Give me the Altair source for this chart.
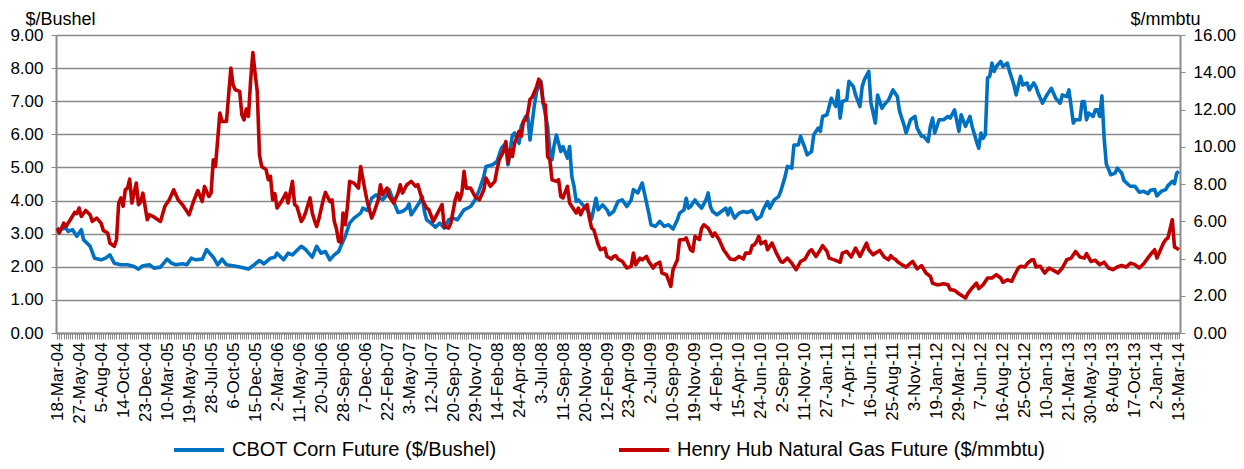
import json
import altair as alt
import pandas as pd

# x-axis category labels (every 10th weekly observation)
date_labels = ["18-Mar-04", "27-May-04", "5-Aug-04", "14-Oct-04", "23-Dec-04", "10-Mar-05", "19-May-05",
               "28-Jul-05", "6-Oct-05", "15-Dec-05", "2-Mar-06", "11-May-06", "20-Jul-06", "28-Sep-06",
               "7-Dec-06", "22-Feb-07", "3-May-07", "12-Jul-07", "20-Sep-07", "29-Nov-07", "14-Feb-08",
               "24-Apr-08", "3-Jul-08", "11-Sep-08", "20-Nov-08", "12-Feb-09", "23-Apr-09", "2-Jul-09",
               "10-Sep-09", "19-Nov-09", "4-Feb-10", "15-Apr-10", "24-Jun-10", "2-Sep-10", "11-Nov-10",
               "27-Jan-11", "7-Apr-11", "16-Jun-11", "25-Aug-11", "3-Nov-11", "19-Jan-12", "29-Mar-12",
               "7-Jun-12", "16-Aug-12", "25-Oct-12", "10-Jan-13", "21-Mar-13", "30-May-13", "8-Aug-13",
               "17-Oct-13", "2-Jan-14", "13-Mar-14"]
n_weeks = 511

corn_name = "CBOT Corn Future ($/Bushel)"
gas_name = "Henry Hub Natural Gas Future ($/mmbtu)"

# CBOT corn ($/bushel): week index and value
corn_week = [0, 1, 4, 5, 7, 9, 11, 12, 15, 17, 20, 22, 24, 26, 29, 32, 35, 37, 39, 42, 44, 47, 50, 52, 54, 57, 59,
             61, 63, 66, 68, 70, 71, 73, 75, 77, 80, 83, 87, 89, 92, 94, 97, 99, 100, 103, 105, 107, 111, 113, 116,
             118, 120, 122, 124, 126, 128, 129, 131, 133, 135, 138, 139, 141, 143, 145, 148, 150, 151, 153, 155,
             157, 159, 160, 161, 163, 165, 166, 167, 168, 170, 172, 174, 176, 178, 180, 182, 185, 188, 190, 192,
             194, 195, 198, 200, 202, 204, 205, 207, 208, 210, 211, 213, 214, 215, 217, 218, 220, 221, 223, 224,
             225, 226, 227, 229, 230, 232, 233, 234, 235, 236, 237, 239, 241, 243, 245, 246, 248, 250, 251, 253,
             255, 257, 259, 261, 262, 264, 266, 267, 269, 270, 272, 274, 276, 278, 280, 282, 283, 285, 286, 287,
             288, 290, 291, 293, 295, 296, 297, 298, 300, 302, 304, 305, 306, 308, 310, 312, 314, 316, 318, 320,
             321, 323, 324, 326, 328, 329, 331, 332, 334, 335, 337, 338, 340, 341, 343, 344, 346, 347, 348, 350,
             351, 352, 354, 355, 356, 357, 359, 360, 362, 363, 365, 366, 367, 369, 370, 372, 373, 375, 376, 378,
             380, 382, 383, 384, 385, 386, 388, 390, 391, 393, 394, 396, 397, 398, 399, 401, 403, 405, 406, 408,
             410, 411, 413, 415, 416, 418, 419, 420, 421, 422, 423, 424, 425, 426, 427, 429, 430, 432, 433, 435,
             436, 438, 439, 441, 442, 444, 445, 446, 448, 450, 452, 454, 456, 457, 459, 460, 462, 463, 465, 466,
             467, 468, 469, 471, 472, 473, 474, 475, 476, 477, 478, 479, 481, 482, 484, 485, 487, 488, 490, 492,
             494, 496, 497, 499, 500, 502, 504, 505, 506, 507, 508, 509, 510]
corn_value = [3.17, 3.12, 3.17, 3.07, 3.12, 2.92, 3.12, 2.82, 2.62, 2.26, 2.21, 2.26, 2.36, 2.11, 2.06, 2.06, 2.01,
              1.93, 2.03, 2.06, 1.96, 1.99, 2.23, 2.11, 2.06, 2.09, 2.06, 2.26, 2.21, 2.23, 2.52, 2.36, 2.29, 2.06,
              2.23, 2.06, 2.03, 1.99, 1.93, 2.03, 2.19, 2.09, 2.26, 2.29, 2.41, 2.21, 2.41, 2.36, 2.62, 2.52, 2.29,
              2.62, 2.41, 2.46, 2.21, 2.36, 2.46, 2.62, 2.92, 3.32, 3.47, 3.62, 3.77, 3.70, 4.07, 4.17, 4.02, 4.17,
              4.33, 3.97, 3.64, 3.67, 3.77, 3.90, 3.57, 3.77, 3.97, 4.12, 3.67, 3.42, 3.32, 3.20, 3.32, 3.17, 3.42,
              3.47, 3.42, 3.72, 3.82, 4.02, 4.33, 4.73, 5.03, 5.08, 5.18, 5.58, 5.73, 5.08, 5.98, 6.04, 5.73, 6.24,
              6.54, 6.54, 5.83, 6.89, 7.29, 7.60, 6.94, 6.24, 5.53, 5.23, 5.68, 5.98, 5.48, 5.63, 5.28, 5.63, 4.73,
              4.43, 3.97, 4.02, 3.87, 3.72, 3.44, 4.07, 3.72, 3.87, 3.72, 3.57, 3.67, 3.97, 4.02, 3.82, 4.02, 4.33,
              4.23, 4.53, 4.23, 3.62, 3.27, 3.22, 3.37, 3.22, 3.27, 3.14, 3.42, 3.62, 3.72, 4.07, 3.77, 3.82, 4.02,
              3.92, 3.77, 4.02, 4.23, 3.82, 3.67, 3.57, 3.67, 3.77, 3.57, 3.77, 3.47, 3.62, 3.67, 3.64, 3.70, 3.44,
              3.52, 3.72, 3.97, 3.77, 4.02, 4.12, 4.28, 4.73, 5.03, 4.98, 5.68, 5.68, 5.94, 5.58, 5.38, 5.48, 5.99,
              6.19, 6.09, 6.54, 6.59, 6.84, 7.09, 6.84, 7.32, 6.49, 6.99, 7.04, 7.60, 7.44, 7.19, 6.84, 7.44, 7.65,
              7.90, 6.94, 6.34, 7.19, 6.79, 6.89, 7.04, 7.34, 7.14, 6.70, 6.49, 6.29, 6.04, 6.44, 6.54, 6.19, 5.94,
              5.94, 5.78, 6.24, 6.49, 6.04, 6.44, 6.44, 6.54, 6.49, 6.74, 6.09, 6.59, 6.24, 6.54, 6.24, 5.78, 5.58,
              6.04, 5.88, 5.99, 7.70, 7.75, 8.15, 7.90, 8.05, 8.20, 8.05, 8.15, 7.90, 7.49, 7.19, 7.75, 7.49, 7.55,
              7.34, 7.55, 7.44, 7.24, 6.94, 7.19, 7.39, 7.09, 6.94, 7.19, 7.14, 7.34, 6.34, 6.44, 6.44, 6.99, 6.99,
              6.44, 6.64, 6.54, 6.74, 6.74, 6.54, 7.16, 5.90, 5.10, 4.95, 4.78, 4.83, 4.98, 4.83, 4.61, 4.48, 4.43,
              4.43, 4.25, 4.28, 4.21, 4.31, 4.33, 4.14, 4.28, 4.33, 4.45, 4.51, 4.58, 4.51, 4.83, 4.88]

# Henry Hub natural gas ($/mmbtu): week index and value
gas_week = [0, 1, 3, 4, 6, 8, 9, 10, 11, 13, 15, 16, 18, 20, 21, 23, 24, 26, 27, 28, 29, 30, 31, 32, 33, 34, 36, 37,
            38, 39, 41, 42, 44, 47, 49, 51, 53, 55, 57, 59, 60, 62, 64, 66, 67, 69, 70, 71, 72, 74, 75, 77, 79, 80,
            81, 83, 84, 85, 86, 87, 88, 89, 90, 91, 92, 93, 95, 96, 97, 98, 99, 100, 102, 104, 105, 107, 108, 109,
            111, 112, 113, 115, 116, 117, 118, 119, 121, 122, 124, 125, 126, 127, 128, 129, 130, 131, 132, 133,
            135, 137, 138, 140, 141, 143, 144, 146, 147, 148, 150, 151, 153, 155, 156, 157, 159, 161, 163, 164,
            166, 168, 169, 171, 173, 175, 176, 178, 179, 181, 182, 183, 184, 185, 186, 188, 190, 192, 194, 195,
            197, 199, 200, 201, 203, 204, 205, 206, 207, 208, 210, 211, 212, 213, 214, 215, 216, 218, 219, 220,
            221, 222, 223, 224, 225, 227, 228, 229, 230, 232, 233, 235, 236, 237, 238, 239, 241, 242, 243, 244,
            246, 247, 249, 250, 252, 253, 254, 255, 257, 259, 261, 262, 263, 265, 266, 268, 269, 271, 272, 274,
            275, 277, 279, 280, 282, 283, 285, 286, 288, 289, 290, 292, 293, 294, 296, 298, 299, 301, 303, 306,
            308, 310, 312, 313, 315, 316, 317, 318, 319, 320, 322, 323, 325, 327, 329, 330, 332, 334, 336, 338,
            340, 342, 343, 345, 347, 348, 350, 351, 354, 356, 357, 359, 361, 363, 365, 368, 369, 371, 372, 374,
            376, 378, 379, 380, 381, 382, 384, 386, 388, 389, 391, 393, 395, 397, 398, 400, 401, 403, 405, 406,
            408, 410, 413, 414, 416, 418, 419, 421, 423, 425, 427, 429, 430, 432, 434, 435, 437, 438, 440, 441,
            443, 444, 445, 447, 448, 449, 451, 453, 455, 457, 459, 461, 463, 465, 467, 468, 470, 472, 474, 476,
            478, 480, 482, 484, 486, 488, 490, 492, 494, 497, 499, 500, 503, 504, 505, 507, 508, 509, 510]
gas_value = [5.63, 5.37, 5.90, 5.72, 6.08, 6.48, 6.41, 6.71, 6.26, 6.58, 6.35, 5.99, 6.17, 5.90, 5.51, 5.37, 4.83,
             4.65, 5.01, 6.98, 7.25, 6.80, 7.69, 7.78, 8.26, 6.98, 8.05, 6.89, 7.04, 7.51, 6.08, 6.35, 6.23, 5.99,
             6.80, 7.15, 7.69, 7.15, 6.89, 6.53, 6.35, 7.06, 7.65, 7.06, 7.87, 7.33, 7.51, 9.30, 8.94, 11.81, 11.36,
             11.36, 14.22, 13.32, 13.06, 12.97, 11.72, 11.44, 12.02, 11.63, 13.59, 15.06, 13.95, 12.97, 9.57, 8.94,
             8.77, 8.23, 8.41, 7.15, 7.48, 6.71, 7.06, 7.51, 6.98, 8.14, 6.89, 6.80, 5.99, 6.17, 6.48, 7.25, 6.44,
             6.05, 5.72, 6.12, 7.15, 7.55, 7.06, 7.15, 6.00, 5.60, 4.92, 4.87, 6.44, 5.81, 6.80, 8.14, 8.05, 7.78,
             8.94, 7.65, 7.06, 6.17, 6.44, 7.15, 7.96, 7.42, 7.78, 7.33, 6.98, 7.51, 7.96, 7.51, 7.96, 8.14, 7.87,
             7.96, 7.15, 6.71, 6.62, 5.99, 6.44, 6.89, 5.72, 5.63, 5.90, 7.15, 7.51, 7.15, 7.51, 8.68, 7.78, 7.78,
             7.33, 7.15, 7.69, 8.32, 7.87, 8.14, 8.77, 9.30, 9.75, 10.28, 9.12, 9.84, 9.48, 10.19, 10.82, 10.55,
             11.36, 11.44, 11.81, 12.55, 12.66, 13.23, 13.63, 13.32, 12.34, 12.25, 9.48, 9.30, 8.23, 8.14, 8.23,
             7.33, 7.25, 7.87, 6.98, 6.62, 6.44, 6.71, 6.35, 6.62, 6.89, 6.17, 5.63, 5.54, 4.74, 4.47, 4.56, 4.11,
             3.97, 4.11, 4.15, 3.97, 3.84, 3.49, 3.58, 4.29, 3.67, 4.02, 3.93, 4.11, 3.84, 3.49, 3.67, 3.80, 3.22,
             3.13, 2.50, 3.40, 3.93, 5.01, 5.01, 5.10, 4.47, 4.38, 5.19, 5.01, 5.63, 5.81, 5.63, 5.19, 5.37, 5.01,
             4.47, 3.97, 3.93, 4.11, 3.97, 4.29, 4.29, 4.69, 4.74, 4.92, 5.19, 4.79, 4.92, 4.47, 4.83, 4.29, 3.84,
             3.80, 4.02, 3.75, 3.40, 3.84, 3.97, 4.38, 4.47, 4.11, 4.47, 4.69, 4.38, 4.02, 3.90, 3.80, 4.29, 4.38,
             4.08, 4.56, 4.11, 4.83, 4.47, 4.20, 4.29, 4.43, 4.08, 3.93, 4.15, 4.02, 3.97, 3.84, 3.67, 3.54, 3.75,
             3.84, 3.44, 3.62, 3.22, 3.04, 2.68, 2.59, 2.59, 2.65, 2.59, 2.33, 2.29, 2.11, 1.88, 2.11, 2.42, 2.68,
             2.38, 2.59, 2.95, 2.95, 3.13, 2.95, 2.72, 2.86, 2.77, 3.04, 3.49, 3.58, 3.54, 3.72, 3.93, 3.93, 3.55,
             3.58, 3.40, 3.22, 3.49, 3.36, 3.22, 3.49, 3.93, 4.02, 4.38, 4.08, 4.02, 4.26, 3.84, 3.90, 3.67, 3.80,
             3.49, 3.40, 3.54, 3.62, 3.54, 3.75, 3.67, 3.49, 3.72, 4.20, 4.47, 4.02, 4.83, 5.01, 5.10, 6.08, 4.61,
             4.56, 4.47]

corn_ticks = list(range(0, 10))
gas_ticks = list(range(0, 17, 2))

df = pd.concat([
    pd.DataFrame({"week": corn_week, "value": corn_value, "series": corn_name}),
    pd.DataFrame({"week": gas_week, "value": gas_value, "series": gas_name}),
], ignore_index=True)

FONT = "Liberation Sans"
GRAY = "#8a8a8a"

label_expr = "datum.value % 10 === 0 ? " + json.dumps(date_labels) + "[datum.value / 10] : ''"

x_enc = alt.X(
    "week:Q",
    scale=alt.Scale(domain=[-0.5, n_weeks - 0.5], nice=False, zero=False),
    axis=alt.Axis(values=list(range(n_weeks)), labelExpr=label_expr, labelAngle=270,
                  labelAlign="right", labelBaseline="middle", labelOverlap=False,
                  labelFontSize=17, labelPadding=3, tickSize=6, tickColor=GRAY, tickWidth=1,
                  domainColor=GRAY, domainWidth=2, grid=False, title=None,
                  labelBound=False, labelFlush=False),
)

color_enc = alt.Color(
    "series:N",
    scale=alt.Scale(domain=[corn_name, gas_name], range=["#0070C0", "#C00000"]),
    legend=alt.Legend(orient="none", legendX=116, legendY=388, direction="horizontal",
                      title=None, symbolType="stroke", symbolSize=2500, symbolStrokeWidth=4,
                      labelFontSize=20, labelLimit=700, columnPadding=114, labelOffset=6,
                      padding=0, labelColor="#000"),
)

base = alt.Chart(df).encode(x=x_enc, color=color_enc)

corn = base.transform_filter(alt.datum.series == corn_name).mark_line(
    strokeWidth=3.6, strokeJoin="round").encode(
    y=alt.Y("value:Q", scale=alt.Scale(domain=[0, 9], nice=False, zero=True),
            axis=alt.Axis(orient="left", values=corn_ticks, format=".2f", grid=True,
                          gridColor=GRAY, gridWidth=1.4, tickSize=5, tickColor=GRAY,
                          domainColor=GRAY, domainWidth=2, labelFontSize=17, labelPadding=8,
                          title="$/Bushel", titleAngle=0, titleX=-31, titleY=-11,
                          titleAlign="left", titleBaseline="alphabetic", titleFontSize=18,
                          titleFontWeight="normal"))
)

gas = base.transform_filter(alt.datum.series == gas_name).mark_line(
    strokeWidth=3.6, strokeJoin="round").encode(
    y=alt.Y("value:Q", scale=alt.Scale(domain=[0, 16], nice=False, zero=True),
            axis=alt.Axis(orient="right", values=gas_ticks, format=".2f", grid=False,
                          tickSize=5, tickColor=GRAY, domainColor=GRAY, domainWidth=2,
                          labelFontSize=17, labelPadding=8,
                          title="$/mmbtu", titleAngle=0, titleX=-50, titleY=-11,
                          titleAlign="left", titleBaseline="alphabetic", titleFontSize=18,
                          titleFontWeight="normal"))
)

chart = alt.layer(corn, gas).resolve_scale(y="independent").properties(
    width=1124, height=298,
    autosize=alt.AutoSizeParams(type="none"),
    padding={"left": 48, "top": 27, "right": 56, "bottom": 128},
).configure(font=FONT).configure_view(stroke=None).configure_axis(
    labelColor="#000", titleColor="#000", labelFont=FONT, titleFont=FONT
).configure_legend(labelFont=FONT)

chart.save("out.html", embed_options={"renderer": "svg", "actions": False})
